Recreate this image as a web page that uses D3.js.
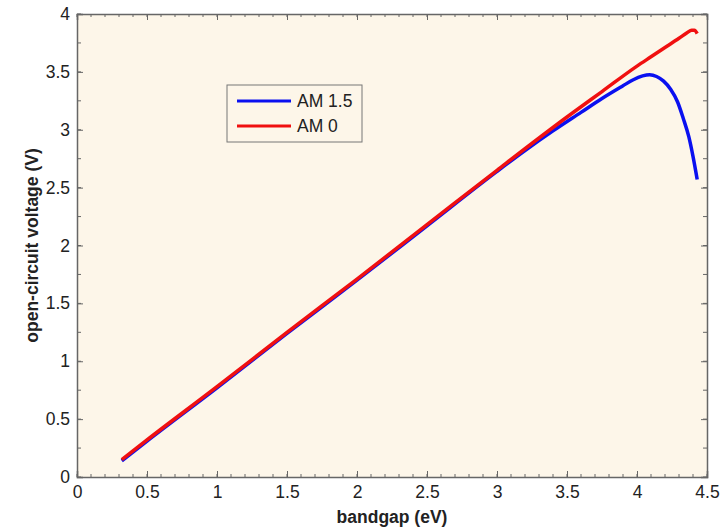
<!DOCTYPE html>
<html>
<head>
<meta charset="utf-8">
<script src="https://cdn.jsdelivr.net/npm/d3@7"></script>
<style>
  body { margin: 0; background: #fff; }
  text { font-family: "Liberation Sans", Arial, sans-serif; }
</style>
</head>
<body>
<div id="chart"></div>
<script>
// datos
const bandgap15 = [0.32, 0.5, 1.0, 1.5, 2.0, 2.5, 3.0, 3.2, 3.4, 3.6, 3.75, 3.9, 3.97, 4.04, 4.09, 4.14, 4.19, 4.24, 4.29, 4.33, 4.37, 4.40, 4.43];
const voc15 = [0.14, 0.31, 0.77, 1.24, 1.70, 2.17, 2.64, 2.82, 2.99, 3.15, 3.27, 3.38, 3.43, 3.465, 3.475, 3.46, 3.42, 3.35, 3.24, 3.10, 2.94, 2.77, 2.57];

const bandgap0 = [0.32, 0.5, 1.0, 1.5, 2.0, 2.5, 3.0, 3.5, 3.75, 4.0, 4.1, 4.2, 4.3, 4.36, 4.39, 4.41, 4.43];
const voc0 = [0.15, 0.32, 0.78, 1.25, 1.71, 2.18, 2.65, 3.11, 3.33, 3.55, 3.63, 3.71, 3.79, 3.84, 3.86, 3.86, 3.83];

const seriesNames = ["AM 1.5", "AM 0"];
const seriesColors = ["#0a10f0", "#f01010"];

const xTicks = [0, 0.5, 1, 1.5, 2, 2.5, 3, 3.5, 4, 4.5];
const yTicks = [0, 0.5, 1, 1.5, 2, 2.5, 3, 3.5, 4];

const W = 727, H = 528;
const margin = { top: 14, right: 20, bottom: 51, left: 77 };
const width = W - margin.left - margin.right;
const height = H - margin.top - margin.bottom;

const svg = d3.select("#chart").append("svg")
  .attr("width", W).attr("height", H);

const g = svg.append("g")
  .attr("transform", `translate(${margin.left},${margin.top})`);

const x = d3.scaleLinear().domain([0, 4.5]).range([0, width]);
const y = d3.scaleLinear().domain([0, 4]).range([height, 0]);

// fondo del area
g.append("rect")
  .attr("width", width).attr("height", height)
  .attr("fill", "#fdf6e9");

const axisCol = "#666";
const xMinor = d3.range(0, 4.51, 0.1);
const yMinor = d3.range(0, 4.01, 0.25);

// ticks menores (hacia adentro, en los 4 lados)
xMinor.forEach(v => {
  g.append("line").attr("x1", x(v)).attr("x2", x(v)).attr("y1", height).attr("y2", height - 3).attr("stroke", axisCol);
  g.append("line").attr("x1", x(v)).attr("x2", x(v)).attr("y1", 0).attr("y2", 3).attr("stroke", axisCol);
});
yMinor.forEach(v => {
  g.append("line").attr("x1", 0).attr("x2", 4).attr("y1", y(v)).attr("y2", y(v)).attr("stroke", axisCol);
  g.append("line").attr("x1", width).attr("x2", width - 4).attr("y1", y(v)).attr("y2", y(v)).attr("stroke", axisCol);
});

// ejes
const xAxis = d3.axisBottom(x).tickValues(xTicks).tickSize(-6).tickPadding(9).tickFormat(d3.format("~g"));
const yAxis = d3.axisLeft(y).tickValues(yTicks).tickSize(-6).tickPadding(7).tickFormat(d3.format("~g"));

g.append("g").attr("transform", `translate(0,${height})`).call(xAxis);
g.append("g").call(yAxis);
g.append("g").call(d3.axisTop(x).tickValues(xTicks).tickSize(-6).tickFormat(""));
g.append("g").attr("transform", `translate(${width},0)`).call(d3.axisRight(y).tickValues(yTicks).tickSize(-6).tickFormat(""));

g.selectAll(".domain").attr("stroke", axisCol).attr("stroke-width", 1.5);
g.selectAll(".tick line").attr("stroke", axisCol);
g.selectAll(".tick text").attr("fill", "#222").style("font-size", "17.5px");

// lineas
const line = d3.line().x(d => x(d[0])).y(d => y(d[1])).curve(d3.curveMonotoneX);
const data15 = bandgap15.map((b, i) => [b, voc15[i]]);
const data0 = bandgap0.map((b, i) => [b, voc0[i]]);

g.append("path").datum(data15)
  .attr("fill", "none").attr("stroke", seriesColors[0]).attr("stroke-width", 3.5)
  .attr("d", line);
g.append("path").datum(data0)
  .attr("fill", "none").attr("stroke", seriesColors[1]).attr("stroke-width", 3.5)
  .attr("d", line);

// etiquetas de ejes
svg.append("text")
  .attr("x", margin.left + width / 2).attr("y", 523)
  .attr("text-anchor", "middle")
  .style("font-size", "17.5px").style("font-weight", "bold").attr("fill", "#222")
  .text("bandgap (eV)");

svg.append("text")
  .attr("transform", `translate(38,${margin.top + height / 2}) rotate(-90)`)
  .attr("text-anchor", "middle")
  .style("font-size", "17.5px").style("font-weight", "bold").attr("fill", "#222")
  .text("open-circuit voltage (V)");

// leyenda
const legend = svg.append("g").attr("transform", "translate(227,85)");
legend.append("rect")
  .attr("width", 135).attr("height", 57)
  .attr("fill", "#fdf6e9").attr("stroke", "#777").attr("stroke-width", 1);
seriesNames.forEach((name, i) => {
  const ly = 16 + i * 25;
  legend.append("line")
    .attr("x1", 10).attr("x2", 64).attr("y1", ly).attr("y2", ly)
    .attr("stroke", seriesColors[i]).attr("stroke-width", 3);
  legend.append("text")
    .attr("x", 70).attr("y", ly).attr("dy", "0.35em")
    .style("font-size", "17.5px").attr("fill", "#222")
    .text(name);
});
</script>
</body>
</html>
